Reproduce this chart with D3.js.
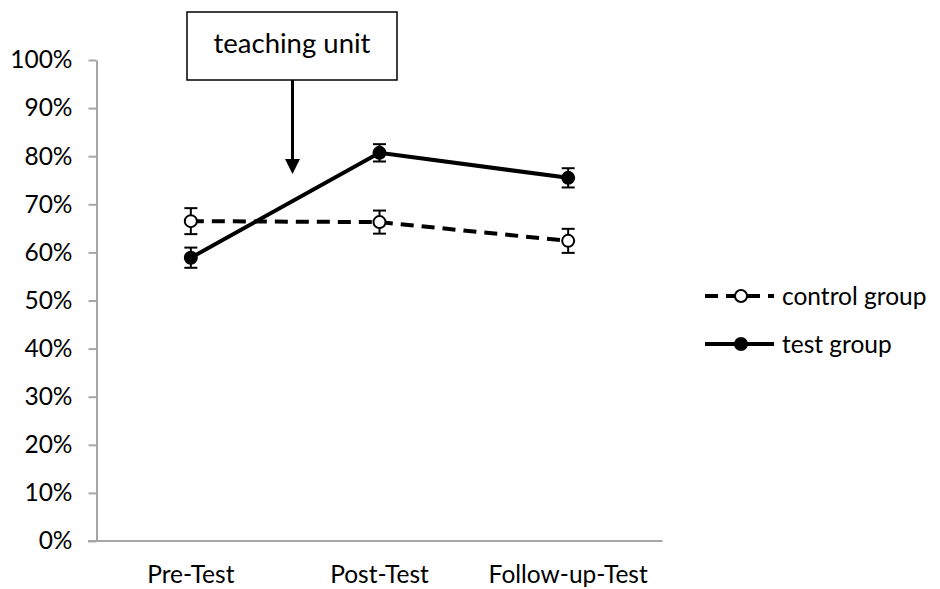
<!DOCTYPE html>
<html>
<head>
<meta charset="utf-8">
<script src="https://cdn.jsdelivr.net/npm/d3@7"></script>
<style>
  html, body { margin: 0; padding: 0; background: #fff; }
  svg { display: block; font-family: Lato, "Open Sans", sans-serif; }
</style>
</head>
<body>
<svg id="chart" width="940" height="589"></svg>
<script>
const categories = ["Pre-Test", "Post-Test", "Follow-up-Test"];
const controlValues = [0.665, 0.663, 0.624];
const controlErrors = [0.027, 0.024, 0.025];
const testValues = [0.589, 0.807, 0.755];
const testErrors = [0.021, 0.018, 0.020];
const yTicks = [0, 0.1, 0.2, 0.3, 0.4, 0.5, 0.6, 0.7, 0.8, 0.9, 1.0];
const seriesNames = ["control group", "test group"];
const annotationText = "teaching unit";

const svg = d3.select("#chart");
const FONT = 24.5;
const AXIS_COLOR = "#a6a6a6";

const x = d3.scaleBand().domain(categories).range([96.5, 662.5]);
const y = d3.scaleLinear().domain([0, 1]).range([541, 60]);
const cx = d => x(d) + x.bandwidth() / 2;

// Y axis
const yAxis = d3.axisLeft(y).tickValues(yTicks).tickFormat(d3.format(".0%"))
  .tickSize(8).tickSizeOuter(0).tickPadding(16);
const gy = svg.append("g").attr("transform", "translate(96.5,0)").call(yAxis);
gy.select(".domain").attr("stroke", AXIS_COLOR).attr("stroke-width", 2);
gy.selectAll(".tick line").attr("stroke", AXIS_COLOR).attr("stroke-width", 2);
gy.selectAll(".tick text").attr("font-size", FONT).attr("fill", "#000")
  .attr("font-family", "Lato, 'Open Sans', sans-serif");

// X axis
const xAxis = d3.axisBottom(x).tickSize(0).tickSizeOuter(0).tickPadding(25);
const gx = svg.append("g").attr("transform", "translate(0,541)").call(xAxis);
gx.select(".domain").remove();
gx.append("line").attr("x1", 88).attr("x2", 662.5).attr("y1", 0).attr("y2", 0)
  .attr("stroke", AXIS_COLOR).attr("stroke-width", 2);
gx.selectAll(".tick text").attr("font-size", FONT).attr("fill", "#000")
  .attr("font-family", "Lato, 'Open Sans', sans-serif");

// Series
const series = [
  { name: seriesNames[0], values: controlValues, errors: controlErrors, dash: "13,8", fill: "#fff" },
  { name: seriesNames[1], values: testValues, errors: testErrors, dash: null, fill: "#000" }
];

const line = d3.line().x((d, i) => cx(categories[i])).y(d => y(d));

series.forEach(s => {
  const g = svg.append("g");
  g.append("path").datum(s.values).attr("d", line)
    .attr("fill", "none").attr("stroke", "#000").attr("stroke-width", 4)
    .attr("stroke-dasharray", s.dash);
  // error bars
  s.values.forEach((v, i) => {
    const px = cx(categories[i]);
    const e = s.errors[i];
    g.append("line").attr("x1", px).attr("x2", px).attr("y1", y(v + e)).attr("y2", y(v - e))
      .attr("stroke", "#000").attr("stroke-width", 2);
    [v + e, v - e].forEach(t => {
      g.append("line").attr("x1", px - 6.5).attr("x2", px + 6.5).attr("y1", y(t)).attr("y2", y(t))
        .attr("stroke", "#000").attr("stroke-width", 2);
    });
  });
  g.selectAll("circle").data(s.values).join("circle")
    .attr("cx", (d, i) => cx(categories[i])).attr("cy", d => y(d)).attr("r", 6)
    .attr("fill", s.fill).attr("stroke", "#000").attr("stroke-width", 2);
});

// Legend
const legendY = [296, 344];
series.forEach((s, i) => {
  const ly = legendY[i];
  svg.append("line").attr("x1", 705).attr("x2", 774).attr("y1", ly).attr("y2", ly)
    .attr("stroke", "#000").attr("stroke-width", 4).attr("stroke-dasharray", s.dash);
  svg.append("circle").attr("cx", 741).attr("cy", ly).attr("r", 6)
    .attr("fill", s.fill).attr("stroke", "#000").attr("stroke-width", 2);
  svg.append("text").attr("x", 782).attr("y", ly).attr("dy", "0.35em")
    .attr("font-size", FONT).attr("fill", "#000").text(s.name);
});

// Annotation
svg.append("rect").attr("x", 187).attr("y", 12).attr("width", 210).attr("height", 68)
  .attr("fill", "#fff").attr("stroke", "#000").attr("stroke-width", 1.5);
svg.append("text").attr("x", 292).attr("y", 43).attr("dy", "0.35em").attr("text-anchor", "middle")
  .attr("font-size", 27.5).attr("fill", "#000").text(annotationText);
svg.append("line").attr("x1", 292.5).attr("x2", 292.5).attr("y1", 80).attr("y2", 161)
  .attr("stroke", "#000").attr("stroke-width", 3);
svg.append("path").attr("d", "M285,159 L300,159 L292.5,174 Z").attr("fill", "#000");
</script>
</body>
</html>
